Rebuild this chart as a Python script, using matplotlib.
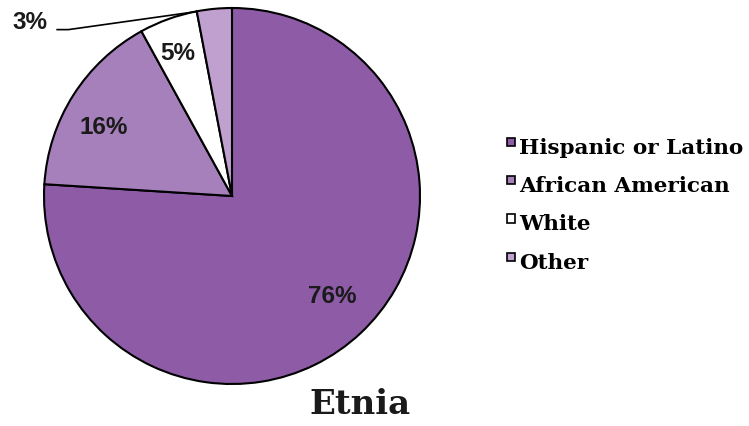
import matplotlib
matplotlib.use("Agg")
import matplotlib.pyplot as plt
from matplotlib.patches import Rectangle
from matplotlib.legend_handler import HandlerPatch
import numpy as np

categories = ["Hispanic or Latino", "African American", "White", "Other"]
values = [76, 16, 5, 3]
colors = ["#8E5BA7", "#A680BB", "#FFFFFF", "#C0A0CE"]
pct_labels = ["76%", "16%", "5%", "3%"]
title = "Etnia"

W, H = 749, 426
fig = plt.figure(figsize=(W / 100, H / 100), dpi=100)
cx, cy, r = 232, 196, 188
ax = fig.add_axes([(cx - r) / W, (H - cy - r) / H, 2 * r / W, 2 * r / H])

wedges, _ = ax.pie(values, colors=colors, startangle=90, counterclock=False,
                   radius=1.0,
                   wedgeprops=dict(edgecolor="black", linewidth=1.5))
ax.set_xlim(-1.0, 1.0)
ax.set_ylim(-1.0, 1.0)
ax.set_aspect("equal")
for w in wedges:
    w.set_clip_on(False)

lab_font = dict(family=["Liberation Sans", "DejaVu Sans"], fontweight="bold",
                fontsize=17.5, color="#1a1a1a")
label_pos = [(0.535, -0.532), (-0.68, 0.364), (-0.29, 0.758)]
for txt, (x, y) in zip(pct_labels[:3], label_pos):
    ax.text(x, y, txt, ha="center", va="center", **lab_font)

# 3% label with leader line
ax.text(-1.077, 0.925, pct_labels[3], ha="center", va="center",
        clip_on=False, **lab_font)
cum = np.cumsum(values) / sum(values)
theta = np.deg2rad(90 - 360 * cum[2]) + 0.005
ex, ey = np.cos(theta) * 0.999, np.sin(theta) * 0.999
ax.plot([-0.93, -0.87, ex], [0.885, 0.885, ey], color="black", lw=1.2,
        clip_on=False)


def top_square(legend, orig_handle, xdescent, ydescent, width, height, fontsize):
    s = 0.38 * fontsize
    return Rectangle((width - s - 1, height - s + 0.05 * fontsize), s, s)


serif = ["DejaVu Serif"]
leg = fig.legend(wedges, categories, loc="upper left",
                 bbox_to_anchor=(505 / W, 1 - 138 / H),
                 frameon=False, handlelength=0.55, handleheight=0.7,
                 handletextpad=0.1, labelspacing=0.85, borderpad=0,
                 borderaxespad=0,
                 handler_map={w: HandlerPatch(patch_func=top_square) for w in wedges},
                 prop=dict(family=serif, weight="bold", size=15.45))
for h in leg.legend_handles:
    h.set_linewidth(1.2)
    h.set_edgecolor("black")

fig.text(360 / W, 1 - 404 / H, title, ha="center", va="center",
         family=serif, fontweight="bold", fontsize=24.5, color="#1a1a1a")

fig.savefig("out.png", dpi=100)
